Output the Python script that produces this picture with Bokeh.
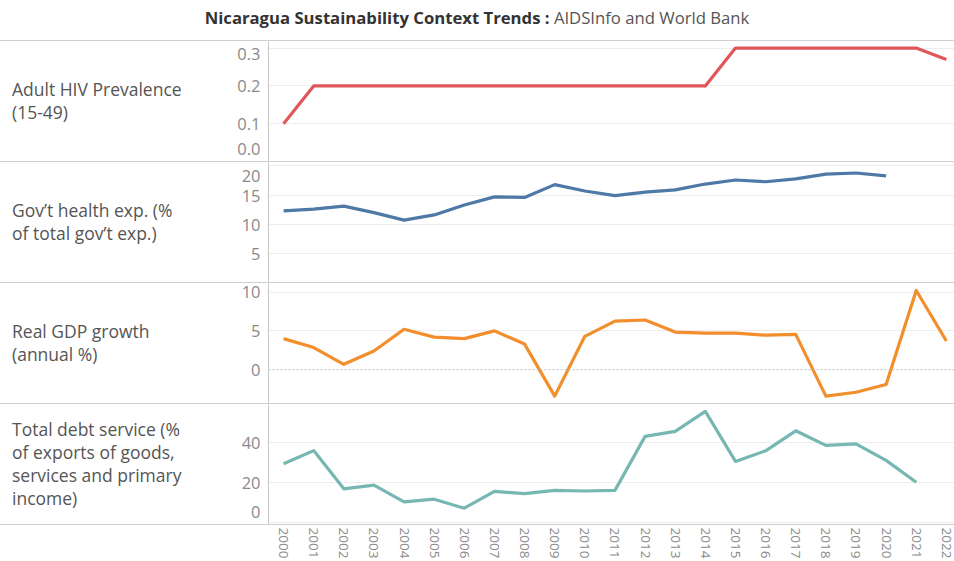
from bokeh.plotting import figure
from bokeh.models import Range1d, FixedTicker, Span, Div
from bokeh.layouts import column, row
from bokeh.embed import file_html
from bokeh.resources import INLINE

NaN = float("nan")

# ---------------- data ----------------
years = [2000, 2001, 2002, 2003, 2004, 2005, 2006, 2007, 2008, 2009, 2010, 2011,
         2012, 2013, 2014, 2015, 2016, 2017, 2018, 2019, 2020, 2021, 2022]

hiv_prevalence = [0.1, 0.2, 0.2, 0.2, 0.2, 0.2, 0.2, 0.2, 0.2, 0.2, 0.2, 0.2,
                  0.2, 0.2, 0.2, 0.3, 0.3, 0.3, 0.3, 0.3, 0.3, 0.3, 0.27]

gov_health_exp = [12.3, 12.6, 13.1, 12.0, 10.7, 11.6, 13.3, 14.7, 14.6, 16.8, 15.7, 14.9,
                  15.5, 15.9, 16.9, 17.6, 17.3, 17.8, 18.6, 18.8, 18.3, NaN, NaN]

gdp_growth = [4.0, 2.85, 0.7, 2.4, 5.2, 4.2, 4.0, 5.0, 3.3, -3.4, 4.3, 6.25,
              6.4, 4.85, 4.7, 4.7, 4.45, 4.55, -3.4, -2.9, -1.9, 10.2, 3.7]

debt_service = [29.2, 35.8, 16.7, 18.5, 10.2, 11.5, 7.0, 15.4, 14.3, 15.9, 15.6, 15.9,
                42.9, 45.4, 55.4, 30.4, 35.7, 45.7, 38.4, 39.2, 30.9, 20.0, NaN]

row_labels = [
    ["Adult HIV Prevalence", "(15-49)"],
    ["Gov\u2019t health exp. (%", "of total gov\u2019t exp.)"],
    ["Real GDP growth", "(annual %)"],
    ["Total debt service (%", "of exports of goods,", "services and primary", "income)"],
]

hiv_ticks = [0.0, 0.1, 0.2, 0.3]
gov_ticks = [5, 10, 15, 20]
gdp_ticks = [0, 5, 10]
gdp_grid = [5, 10]
debt_ticks = [0, 20, 40]

title_bold = "Nicaragua Sustainability Context Trends :"
title_rest = "AIDSInfo and World Bank"

# ---------------- styling ----------------
FONT = "Open Sans"
SEP = "#cfcfcf"
TICK_COLOR = "#8a8a8a"
LABEL_COLOR = "#555555"
GRID_COLOR = "#ededed"
W = 954
LABEL_W = 198
AXIS_W = 70
FRAME_H = 120
TICK_SIZE = "16.5px"
EDGE_LINE_HEIGHT = 0.08   # keeps edge tick labels just inside their panel

x_range = Range1d(1999.5, 2022.27)


def make_panel(values, color, y_range, ticks, grid_ticks=None, overrides=None):
    p = figure(width=W - LABEL_W, height=FRAME_H, x_range=x_range, y_range=y_range,
               output_backend="svg", toolbar_location=None,
               x_axis_location=None,
               min_border_left=AXIS_W, min_border_right=0,
               min_border_top=0, min_border_bottom=0)
    p.outline_line_color = None
    p.xgrid.visible = False
    ax = p.yaxis[0]
    ax.ticker = FixedTicker(ticks=ticks)
    ax.axis_line_color = "#c8c8c8"
    ax.major_tick_line_color = None
    ax.minor_tick_line_color = None
    ax.major_tick_out = 0
    ax.major_tick_in = 0
    ax.minor_tick_out = 0
    ax.major_label_text_font = FONT
    ax.major_label_text_font_size = TICK_SIZE
    ax.major_label_text_color = TICK_COLOR
    ax.major_label_standoff = 8
    if overrides:
        ax.major_label_overrides = overrides
        ax.major_label_text_line_height = EDGE_LINE_HEIGHT
    p.ygrid.ticker = FixedTicker(ticks=grid_ticks if grid_ticks else ticks)
    p.ygrid.grid_line_color = GRID_COLOR
    p.ygrid.grid_line_width = 1
    p.line(years, values, line_color=color, line_width=3.2, line_join="round")
    return p


def label_div(lines, height):
    html = "<br>".join(lines)
    return Div(text=(f'<div style="height:{height}px;display:flex;align-items:center;'
                     f'padding-left:12px;font-family:\'{FONT}\';font-size:17.5px;'
                     f'line-height:23px;color:{LABEL_COLOR};white-space:nowrap;">'
                     f'<div>{html}</div></div>'),
               width=LABEL_W, height=height, margin=0)


def sep():
    return Div(text="", width=W, height=1, margin=0,
               styles={"background-color": SEP})


p1 = make_panel(hiv_prevalence, "#e15759", Range1d(0, 0.3175), hiv_ticks,
                overrides={0: "0.0\n"})
p2 = make_panel(gov_health_exp, "#4e79a7", Range1d(0, 20.6), gov_ticks,
                overrides={20: "\n20"})
p3 = make_panel(gdp_growth, "#f28e2b", Range1d(-4.35, 11.1), gdp_ticks,
                grid_ticks=gdp_grid)
p3.add_layout(Span(location=0, dimension="width", line_color="#bdbdbd",
                   line_width=1, line_dash="2 2"))
p4 = make_panel(debt_service, "#76b7b2", Range1d(-1.15, 58.85), debt_ticks,
                overrides={0: "0\n"})

# axis-only strip for the year labels
p5 = figure(width=W, height=36, x_range=x_range, y_range=Range1d(0, 1),
            output_backend="svg", toolbar_location=None,
            y_axis_location=None,
            min_border_left=LABEL_W + AXIS_W, min_border_right=0,
            min_border_top=0, min_border_bottom=0)
p5.outline_line_color = None
p5.xgrid.visible = False
p5.ygrid.visible = False
xa = p5.xaxis[0]
xa.ticker = FixedTicker(ticks=years)
xa.major_label_orientation = "vertical"
xa.axis_line_color = None
xa.major_tick_line_color = None
xa.minor_tick_line_color = None
xa.major_tick_out = 0
xa.major_tick_in = 0
xa.minor_tick_out = 0
xa.major_label_text_font = FONT
xa.major_label_text_font_size = "13.5px"
xa.major_label_text_color = TICK_COLOR
xa.major_label_standoff = 2
p5.line(years, [NaN] * len(years), line_alpha=0)

title = Div(
    text=(f'<div style="width:{W}px;text-align:center;font-family:\'{FONT}\';'
          f'font-size:16.7px;line-height:22px;padding-top:7px;">'
          f'<span style="font-weight:bold;color:#333333;">{title_bold}</span> '
          f'<span style="color:#555555;">{title_rest}</span></div>'),
    width=W, height=40, margin=0)

rows = [row(label_div(lab, FRAME_H), p, spacing=0, margin=0)
        for lab, p in zip(row_labels, [p1, p2, p3, p4])]

layout = column(title, sep(), rows[0], sep(), rows[1], sep(), rows[2], sep(),
                rows[3], sep(), p5, spacing=0, margin=0)

open("out.html", "w").write(file_html(layout, INLINE))
